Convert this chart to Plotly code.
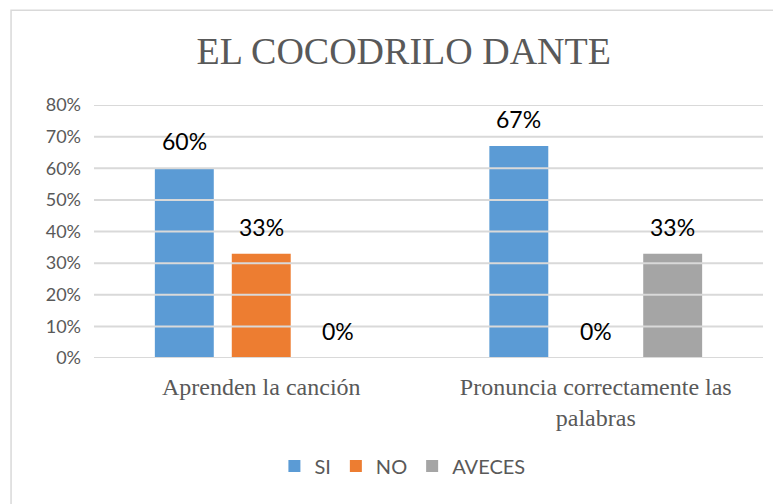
import plotly.graph_objects as go

categorias = ['Aprenden la canción', 'Pronuncia correctamente las<br>palabras']
series = ['SI', 'NO', 'AVECES']
valores = {
    'SI': [0.60, 0.67],
    'NO': [0.33, 0.00],
    'AVECES': [0.00, 0.33],
}
colores = {'SI': '#5B9BD5', 'NO': '#ED7D31', 'AVECES': '#A5A5A5'}
ticks = [0, 0.1, 0.2, 0.3, 0.4, 0.5, 0.6, 0.7, 0.8]

bargap = 0.31
slot = (1 - bargap) / len(series)

fig = go.Figure()

for nombre in series:
    fig.add_trace(go.Bar(
        name=nombre,
        x=categorias,
        y=valores[nombre],
        marker=dict(color=colores[nombre], line=dict(width=0)),
    ))

# etiquetas de datos arriba de cada barra
anotaciones = []
for j, nombre in enumerate(series):
    for i, v in enumerate(valores[nombre]):
        anotaciones.append(dict(
            x=i + (j - 1) * slot, y=v, xref='x', yref='y',
            text='{:.0%}'.format(v), showarrow=False,
            yanchor='middle', yshift=27,
            font=dict(family='Lato', size=23, color='#000000'),
        ))

# lineas de cuadricula encima de las barras
formas = []
for t in ticks:
    formas.append(dict(
        type='line', xref='paper', yref='y', x0=0, x1=1, y0=t, y1=t,
        line=dict(color='#D9D9D9', width=2), layer='above',
    ))

# borde del grafico
formas.append(dict(
    type='rect', xref='paper', yref='paper',
    x0=-0.124, x1=1.05, y0=-0.7, y1=1.375,
    line=dict(color='#D9D9D9', width=1.5), layer='below',
))

fig.update_layout(
    width=773, height=496,
    margin=dict(l=86, r=18, t=97, b=146),
    paper_bgcolor='white', plot_bgcolor='white',
    title=dict(
        text='EL COCODRILO DANTE', x=0.463, xref='paper',
        y=0.913, yref='container', xanchor='center', yanchor='middle',
        font=dict(family='Liberation Serif', size=38, color='#595959'),
    ),
    barmode='group', bargap=bargap, bargroupgap=0.234,
    xaxis=dict(
        type='category', showgrid=False, zeroline=False, showline=False,
        tickfont=dict(family='Liberation Serif', size=24, color='#595959'),
        ticklabelstandoff=12,
    ),
    yaxis=dict(
        range=[0, 0.8], tickvals=ticks,
        ticktext=['{:.0%}'.format(t) for t in ticks],
        showgrid=False, zeroline=False, showline=False,
        tickfont=dict(family='Lato', size=18, color='#595959'),
        ticklabelstandoff=12,
    ),
    legend=dict(
        orientation='h', x=0.461, xanchor='center', y=-0.427, yanchor='middle',
        font=dict(family='Lato', size=20, color='#595959'),
        itemwidth=30,
    ),
    annotations=anotaciones,
    shapes=formas,
)

fig.write_html('out.html')
